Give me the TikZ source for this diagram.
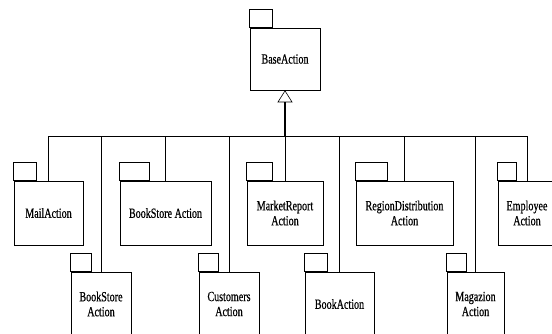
\documentclass[tikz,border=0pt]{standalone}
\usepackage{fontspec}
\setmainfont{Liberation Serif}[FakeStretch=0.72, FakeBold=0.6]
\usetikzlibrary{arrows.meta}

\tikzset{
  pkgbody/.style={draw, line width=0.6pt, rectangle, inner sep=0pt, align=center,
    font=\fontsize{14}{15}\selectfont},
  tabbox/.style={draw, line width=0.6pt},
  link/.style={draw, line width=0.6pt},
  stem/.style={draw, line width=1.4pt,
    -{Triangle[open, length=12pt, width=15pt, line width=0.6pt]}}
}
% package: name, centre, width, height, tab width, label
\newcommand{\umlpkg}[6]{%
  \node[pkgbody, minimum width=#3pt, minimum height=#4pt] (#1) at #2 {#6};
  \draw[tabbox] (#1.north west) rectangle ++(#5,-18);
}

\begin{document}
\begin{tikzpicture}[x=1pt, y=-1pt]
\useasboundingbox (0,0) rectangle (552,333);
\clip (0,0) rectangle (552,333);

% parent package
\umlpkg{base}{(285,59)}{70}{62}{23}{BaseAction}

% first row
\umlpkg{mail}{(48.5,213)}{69}{64}{23}{MailAction}
\umlpkg{bookstoreA}{(165.5,213)}{91}{64}{30}{BookStore Action}
\umlpkg{market}{(285,213)}{76}{64}{26}{MarketReport\\Action}
\umlpkg{region}{(404.5,213)}{97}{64}{32}{RegionDistribution\\Action}
\umlpkg{employee}{(527,213)}{58}{64}{19}{Employee\\Action}

% second row
\umlpkg{bookstoreB}{(101,304)}{60}{64}{21}{BookStore\\Action}
\umlpkg{customers}{(229,304)}{60}{64}{20}{Customers\\Action}
\umlpkg{book}{(339.5,304)}{69}{64}{23}{BookAction}
\umlpkg{magazion}{(475.5,304)}{57}{64}{20}{Magazion\\Action}

% generalisation tree
\coordinate (hub) at (285,136);
\foreach \c in {mail,bookstoreA,market,region,employee,bookstoreB,customers,book,magazion}
  \draw[link] (\c.north) |- (hub);
\draw[stem] (hub) -- (base.south);
\end{tikzpicture}
\end{document}
